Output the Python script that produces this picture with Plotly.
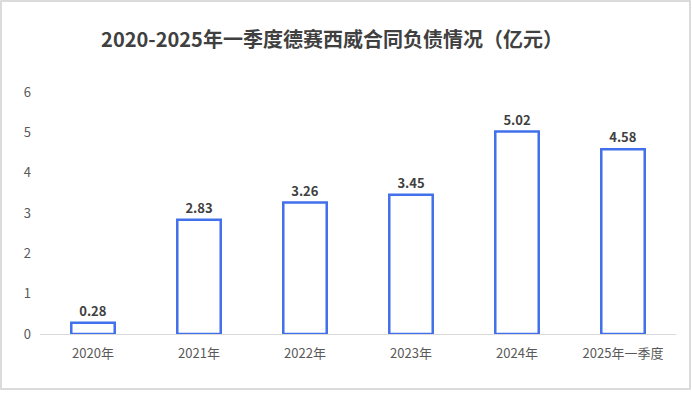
import plotly.graph_objects as go

categories = ["2020年", "2021年", "2022年", "2023年", "2024年", "2025年一季度"]
values = [0.28, 2.83, 3.26, 3.45, 5.02, 4.58]
value_labels = ["0.28", "2.83", "3.26", "3.45", "5.02", "4.58"]
y_ticks = [0, 1, 2, 3, 4, 5, 6]

FONT = "Noto Sans CJK SC, Microsoft YaHei, sans-serif"

fig = go.Figure()
fig.add_trace(go.Bar(
    x=categories, y=values,
    marker=dict(color="white", line=dict(color="#4170EA", width=2.5)),
    text=value_labels, textposition="outside",
    textfont=dict(family=FONT, size=13, color="#404040", weight="bold"),
    cliponaxis=False, width=0.41,
))

W, H = 692, 399
ml, mr, mt, mb = 40, 16, 92, 65
pw, ph = W - ml - mr, H - mt - mb

def px_x(px):
    return (px - ml) / pw

def px_y(py):
    return (H - mb - py) / ph

fig.update_layout(
    width=W, height=H,
    margin=dict(l=ml, r=mr, t=mt, b=mb),
    paper_bgcolor="white", plot_bgcolor="white",
    showlegend=False,
    title=dict(text="<b>2020-2025年一季度德赛西威合同负债情况（亿元）</b>",
               x=332 / W, xanchor="center", y=1 - 40 / H, yanchor="middle",
               font=dict(family=FONT, size=20, color="#404040")),
    xaxis=dict(showline=True, linecolor="#D9D9D9", linewidth=1, ticks="",
               tickfont=dict(family=FONT, size=13, color="#595959"),
               ticklabelstandoff=7, showgrid=False),
    yaxis=dict(range=[0, 6], tickvals=y_ticks, showgrid=False, zeroline=False,
               showline=False, ticks="", ticklabelstandoff=8,
               tickfont=dict(family=FONT, size=13, color="#595959")),
    shapes=[dict(type="rect", xref="paper", yref="paper",
                 x0=px_x(1), x1=px_x(690), y0=px_y(389), y1=px_y(1),
                 line=dict(color="#D0D0D0", width=1.5), fillcolor="rgba(0,0,0,0)",
                 layer="below")],
)

fig.write_html("out.html", config={"displayModeBar": False},
               post_script="document.body.style.margin='0';document.body.style.overflow='hidden';")
